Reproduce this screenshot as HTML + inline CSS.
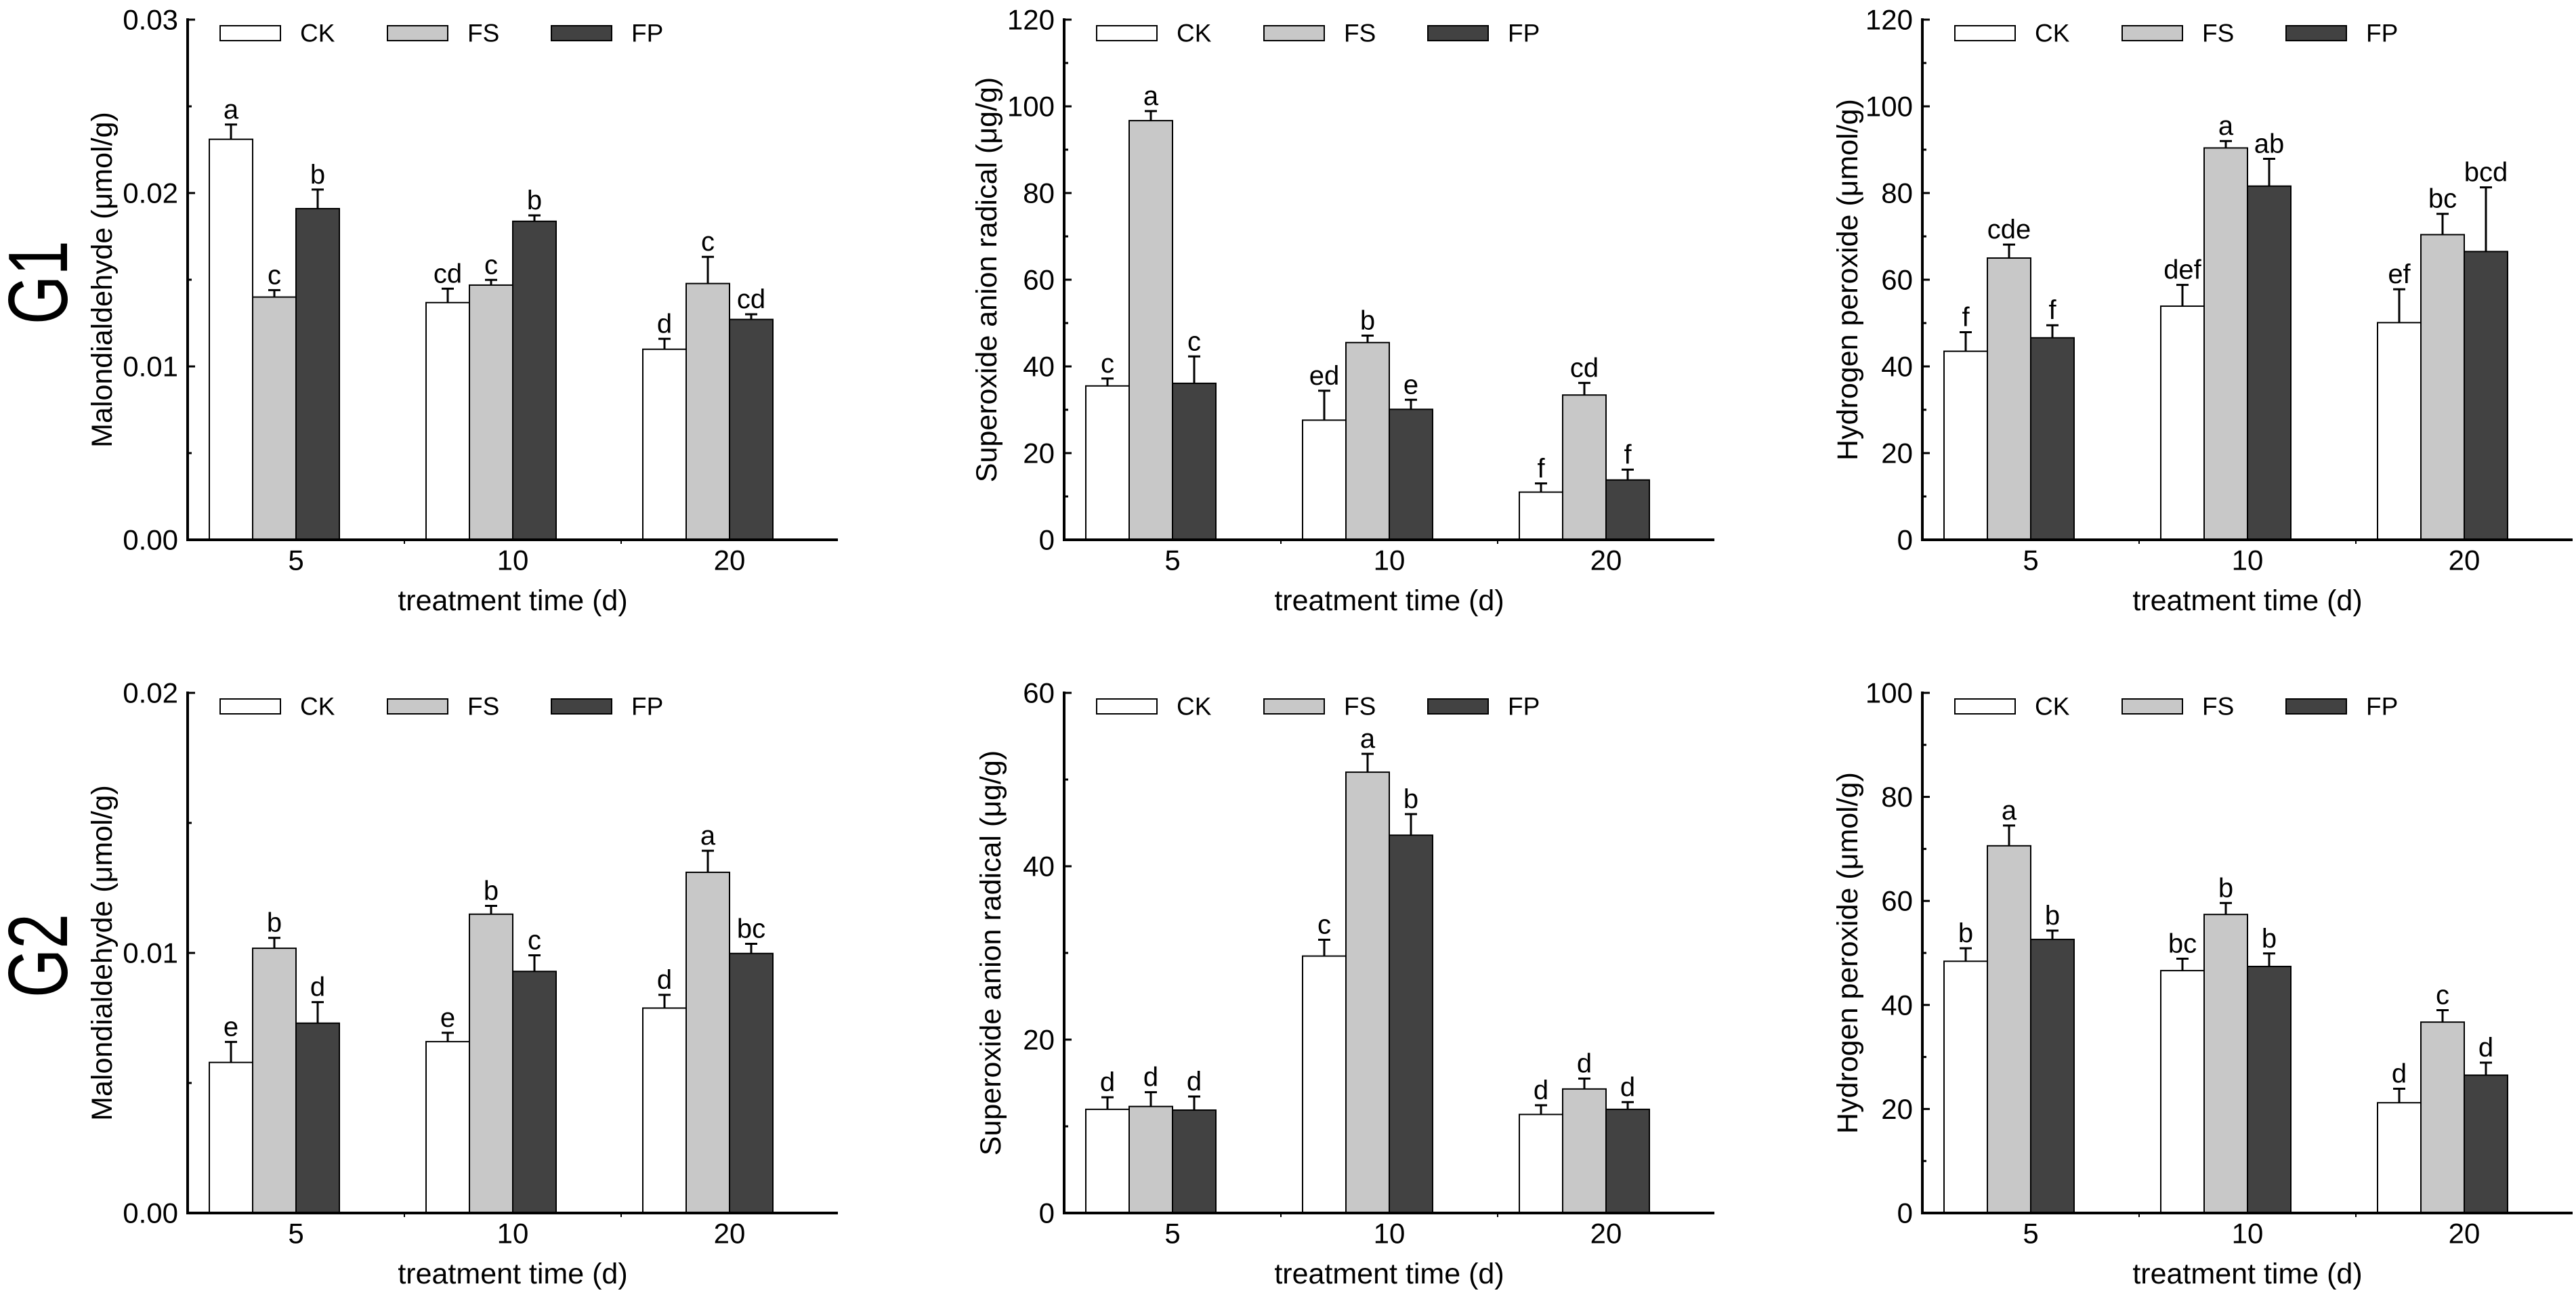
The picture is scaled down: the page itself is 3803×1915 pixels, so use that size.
<!DOCTYPE html>
<html><head><meta charset="utf-8">
<style>
html,body{margin:0;padding:0;background:#fff;}
svg{display:block;font-family:"Liberation Sans",Arial,sans-serif;}
</style></head>
<body>
<svg id="fig" width="3803" height="1915" viewBox="0 0 3803 1915" xmlns="http://www.w3.org/2000/svg">
<rect x="0" y="0" width="3803" height="1915" fill="#fff"/>
<text x="57" y="417" font-size="124" text-anchor="middle" dominant-baseline="central" transform="translate(57,417) scale(1,0.75) rotate(-90) translate(-57,-417)">G1</text>
<text x="57" y="1411" font-size="124" text-anchor="middle" dominant-baseline="central" transform="translate(57,1411) scale(1,0.75) rotate(-90) translate(-57,-1411)">G2</text>
</svg>
<script>
const categories = ["5","10","20"];
const seriesNames = ["CK","FS","FP"];

// Panel 1: Malondialdehyde G1
const p1CK = [0.0231,0.01368,0.01099];
const p1FS = [0.0140,0.01469,0.01478];
const p1FP = [0.0191,0.01837,0.01271];
const p1CKerr = [0.00085,0.0008,0.0006];
const p1FSerr = [0.0004,0.0003,0.00154];
const p1FPerr = [0.0011,0.00034,0.0003];
const p1Sig = [["a","c","b"],["cd","c","b"],["d","c","cd"]];
const p1Ticks = ["0.00","0.01","0.02","0.03"];

// Panel 2: Superoxide G1
const p2CK = [35.5,27.6,11.0];
const p2FS = [96.7,45.5,33.4];
const p2FP = [36.1,30.1,13.8];
const p2CKerr = [1.7,6.8,2.0];
const p2FSerr = [2.2,1.6,2.8];
const p2FPerr = [6.2,2.2,2.4];
const p2Sig = [["c","a","c"],["ed","b","e"],["f","cd","f"]];
const p2Ticks = ["0","20","40","60","80","100","120"];

// Panel 3: Hydrogen peroxide G1
const p3CK = [43.5,53.9,50.1];
const p3FS = [65.0,90.4,70.4];
const p3FP = [46.6,81.6,66.5];
const p3CKerr = [4.4,4.9,7.7];
const p3FSerr = [3.1,1.6,4.8];
const p3FPerr = [2.9,6.3,14.8];
const p3Sig = [["f","cde","f"],["def","a","ab"],["ef","bc","bcd"]];
const p3Ticks = ["0","20","40","60","80","100","120"];

// Panel 4: Malondialdehyde G2
const p4CK = [0.00579,0.00659,0.00788];
const p4FS = [0.01018,0.01149,0.0131];
const p4FP = [0.0073,0.00929,0.00998];
const p4CKerr = [0.00079,0.00034,0.00051];
const p4FSerr = [0.0004,0.00032,0.00083];
const p4FPerr = [0.00081,0.00062,0.00037];
const p4Sig = [["e","b","d"],["e","b","c"],["d","a","bc"]];
const p4Ticks = ["0.00","0.01","0.02"];

// Panel 5: Superoxide G2
const p5CK = [11.96,29.64,11.37];
const p5FS = [12.29,50.85,14.31];
const p5FP = [11.87,43.58,11.96];
const p5CKerr = [1.39,1.88,1.06];
const p5FSerr = [1.65,2.12,1.2];
const p5FPerr = [1.57,2.44,0.83];
const p5Sig = [["d","d","d"],["c","a","b"],["d","d","d"]];
const p5Ticks = ["0","20","40","60"];

// Panel 6: Hydrogen peroxide G2
const p6CK = [48.4,46.6,21.2];
const p6FS = [70.6,57.4,36.7];
const p6FP = [52.6,47.4,26.5];
const p6CKerr = [2.5,2.3,2.7];
const p6FSerr = [3.9,2.2,2.3];
const p6FPerr = [1.7,2.5,2.4];
const p6Sig = [["b","a","b"],["bc","b","b"],["d","c","d"]];
const p6Ticks = ["0","20","40","60","80","100"];

const NS = "http://www.w3.org/2000/svg";
const svg = document.getElementById("fig");
function mk(tag, attrs, parent){
  const e = document.createElementNS(NS, tag);
  for (const k in attrs) e.setAttribute(k, attrs[k]);
  (parent||svg).appendChild(e);
  return e;
}
const fills = ["#ffffff","#c8c8c8","#424242"];

function panel(cfg){
  const g = mk("g", {});
  
  
  const x0 = cfg.x0, W = 960, yTop = cfg.yTop, yZero = cfg.yZero;
  const yMax = cfg.yMax;
  const yScale = v => yZero - (v / yMax) * (yZero - yTop);
  const step = W / categories.length;
  const xCat = i => x0 + (i + 0.5) * step;
  const bw = 64;

  const vals = [cfg.ck, cfg.fs, cfg.fp];
  const errs = [cfg.ckErr, cfg.fsErr, cfg.fpErr];
  for (let i = 0; i < categories.length; i++) {
    for (let s = 0; s < 3; s++) {
      const bx = xCat(i) + (s - 2) * bw;
      const v = vals[s][i];
      const by = yScale(v);
      const r = mk("rect", {x: bx, y: by, width: bw, height: yZero - by, fill: fills[s], stroke: "#000", "stroke-width": 2}, g);
      
      
      const cx = bx + bw / 2;
      const ey = yScale(v + errs[s][i]);
      const eb = mk("path", {d: `M${cx},${by} V${ey} M${cx-9},${ey} H${cx+9}`, stroke: "#000", "stroke-width": 3, fill: "none"}, g);
      
      
      const t = mk("text", {x: cx, y: ey - 9, "font-size": 40, "text-anchor": "middle"}, g);
      t.textContent = cfg.sig[i][s];
      
      
    }
  }

  const ax = mk("path", {d: `M${x0},${yTop-2} V${yZero} H${x0+W}`, stroke: "#000", "stroke-width": 4, fill: "none"}, g);
  
  
  const n = cfg.ticks.length - 1;
  for (let k = 0; k <= n; k++) {
    const v = yMax * k / n;
    const y = yScale(v);
    const tk = mk("line", {x1: x0, x2: x0 + 11, y1: y, y2: y, stroke: "#000", "stroke-width": 3}, g);
    
    
    if (k < n) {
      const ym = yScale(v + yMax / n / 2);
      const mt = mk("line", {x1: x0, x2: x0 + 6, y1: ym, y2: ym, stroke: "#000", "stroke-width": 3}, g);
      
      
    }
    const tl = mk("text", {x: x0 - 14, y: y, "font-size": 42, "text-anchor": "end", "dominant-baseline": "central"}, g);
    tl.textContent = cfg.ticks[k];
    
    
  }
  for (let i = 1; i < categories.length; i++) {
    const xb = x0 + i * step;
    const bt = mk("line", {x1: xb, x2: xb, y1: yZero, y2: yZero + 6, stroke: "#000", "stroke-width": 2}, g);
    
    
  }
  for (let i = 0; i < categories.length; i++) {
    const xl = mk("text", {x: xCat(i), y: yZero + 30, "font-size": 42, "text-anchor": "middle", "dominant-baseline": "central"}, g);
    xl.textContent = categories[i];
    
    
  }
  const xt = mk("text", {x: x0 + W / 2, y: yZero + 90, "font-size": 43, "text-anchor": "middle", "dominant-baseline": "central"}, g);
  xt.textContent = "treatment time (d)";
  
  
  const yc = (yTop + yZero) / 2, xc = x0 + cfg.ylabOff;
  const yt = mk("text", {x: xc, y: yc, "font-size": 43, "text-anchor": "middle", "dominant-baseline": "central", transform: `rotate(-90 ${xc} ${yc})`}, g);
  yt.textContent = cfg.ylabel;
  
  

  const lx = [48, 295, 537];
  for (let s = 0; s < 3; s++) {
    const lg = mk("g", {}, g);
    
    
    mk("rect", {x: x0 + lx[s], y: yTop + 9, width: 89, height: 22, fill: fills[s], stroke: "#000", "stroke-width": 2}, lg);
    const lt = mk("text", {x: x0 + lx[s] + 118, y: yTop + 20, "font-size": 37, "dominant-baseline": "central"}, lg);
    lt.textContent = seriesNames[s];
  }
}

const r1 = {yTop: 29, yZero: 797}, r2 = {yTop: 1023, yZero: 1791};
panel({name:"panel-mda-g1", x0:277, ...r1, yMax:0.03, ck:p1CK, fs:p1FS, fp:p1FP, ckErr:p1CKerr, fsErr:p1FSerr, fpErr:p1FPerr, sig:p1Sig, ticks:p1Ticks, ylabel:"Malondialdehyde (μmol/g)", ylabOff:-126});
panel({name:"panel-superoxide-g1", x0:1571, ...r1, yMax:120, ck:p2CK, fs:p2FS, fp:p2FP, ckErr:p2CKerr, fsErr:p2FSerr, fpErr:p2FPerr, sig:p2Sig, ticks:p2Ticks, ylabel:"Superoxide anion radical (μg/g)", ylabOff:-114});
panel({name:"panel-h2o2-g1", x0:2838, ...r1, yMax:120, ck:p3CK, fs:p3FS, fp:p3FP, ckErr:p3CKerr, fsErr:p3FSerr, fpErr:p3FPerr, sig:p3Sig, ticks:p3Ticks, ylabel:"Hydrogen peroxide (μmol/g)", ylabOff:-110});
panel({name:"panel-mda-g2", x0:277, ...r2, yMax:0.02, ck:p4CK, fs:p4FS, fp:p4FP, ckErr:p4CKerr, fsErr:p4FSerr, fpErr:p4FPerr, sig:p4Sig, ticks:p4Ticks, ylabel:"Malondialdehyde (μmol/g)", ylabOff:-126});
panel({name:"panel-superoxide-g2", x0:1571, ...r2, yMax:60, ck:p5CK, fs:p5FS, fp:p5FP, ckErr:p5CKerr, fsErr:p5FSerr, fpErr:p5FPerr, sig:p5Sig, ticks:p5Ticks, ylabel:"Superoxide anion radical (μg/g)", ylabOff:-108});
panel({name:"panel-h2o2-g2", x0:2838, ...r2, yMax:100, ck:p6CK, fs:p6FS, fp:p6FP, ckErr:p6CKerr, fsErr:p6FSerr, fpErr:p6FPerr, sig:p6Sig, ticks:p6Ticks, ylabel:"Hydrogen peroxide (μmol/g)", ylabOff:-110});
</script>
</body></html>
